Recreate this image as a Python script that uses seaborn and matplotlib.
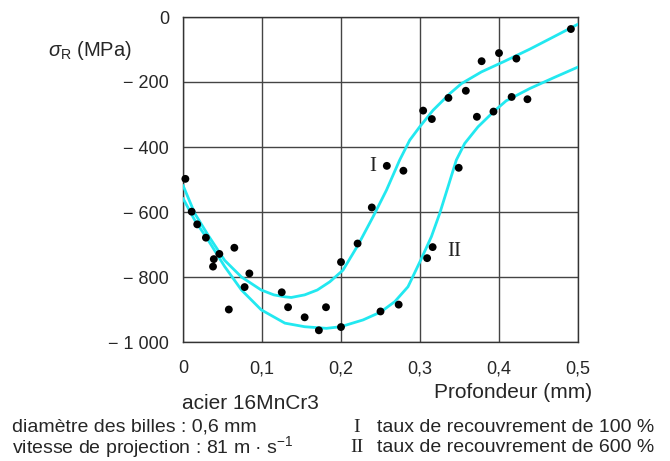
import matplotlib
matplotlib.use("Agg")
import matplotlib.pyplot as plt
import seaborn as sns

# ---- data ----
pts_x = [0.003, 0.011, 0.018, 0.029, 0.039, 0.038, 0.046, 0.065, 0.058, 0.084,
         0.078, 0.125, 0.133, 0.154, 0.172, 0.181, 0.200, 0.200, 0.221, 0.239,
         0.258, 0.279, 0.304, 0.315, 0.336, 0.358, 0.378, 0.400, 0.422, 0.491,
         0.372, 0.393, 0.416, 0.436, 0.349, 0.316, 0.309, 0.273, 0.250]
pts_y = [-498, -599, -638, -679, -745, -768, -729, -710, -900, -789,
         -831, -847, -893, -924, -964, -893, -954, -754, -697, -586,
         -458, -473, -288, -314, -249, -227, -136, -111, -128, -37,
         -307, -291, -246, -253, -464, -708, -742, -885, -906]

# curve I (100 %)
curve1_x = [0, 0.0148, 0.0317, 0.0528, 0.074, 0.099, 0.115, 0.129, 0.137, 0.154,
            0.17, 0.1857, 0.2025, 0.2215, 0.2405, 0.2575, 0.2743, 0.287, 0.2996,
            0.3165, 0.3376, 0.3524, 0.3777, 0.4072, 0.4389, 0.47, 0.5]
curve1_y = [-518, -604, -671, -749, -800, -840, -855, -861, -863, -855,
            -840, -815, -779, -702, -615, -533, -440, -379, -338,
            -287, -236, -205, -169, -136, -99, -60, -22]

# curve II (600 %)
curve2_x = [0, 0.0148, 0.0317, 0.0528, 0.074, 0.099, 0.129, 0.154, 0.1815, 0.1996,
            0.228, 0.25, 0.268, 0.2848, 0.3009, 0.3144, 0.325, 0.3354, 0.346,
            0.3566, 0.3734, 0.3933, 0.409, 0.439, 0.47, 0.5]
curve2_y = [-558, -625, -686, -768, -840, -901, -942, -953, -958, -953,
            -932, -908, -876, -830, -748, -676, -604, -523, -440,
            -389, -338, -291, -258, -220, -186, -154]

x_ticks = [0, 0.1, 0.2, 0.3, 0.4, 0.5]
x_labels = ["0", "0,1", "0,2", "0,3", "0,4", "0,5"]
y_ticks = [0, -200, -400, -600, -800, -1000]
y_labels = ["0", "\u2212 200", "\u2212 400", "\u2212 600", "\u2212 800", "\u2212 1 000"]

# ---- style ----
sns.set_style("white")
plt.rcParams["font.family"] = ["Liberation Sans", "DejaVu Sans"]
plt.rcParams["mathtext.fontset"] = "custom"
plt.rcParams["mathtext.rm"] = "Liberation Sans"
plt.rcParams["mathtext.it"] = "Liberation Sans:italic"

W, H = 670, 461
fig = plt.figure(figsize=(W / 100, H / 100), dpi=100)
ax = fig.add_axes([183 / W, 1 - 342 / H, (578 - 183) / W, (342 - 17) / H])

cyan = "#22e8f0"
sns.lineplot(x=curve1_x, y=curve1_y, ax=ax, color=cyan, lw=2.0, sort=False, zorder=3)
sns.lineplot(x=curve2_x, y=curve2_y, ax=ax, color=cyan, lw=2.0, sort=False, zorder=3)
sns.scatterplot(x=pts_x, y=pts_y, ax=ax, color="black", s=32, edgecolor="none",
                zorder=4, clip_on=False)

ax.set_xlim(0, 0.5)
ax.set_ylim(-1000, 0)
ax.set_xticks(x_ticks, x_labels)
ax.set_yticks(y_ticks, y_labels)
ax.grid(True, color="#444444", lw=1.0)
ax.set_axisbelow(True)
for s in ax.spines.values():
    s.set_color("#333333")
    s.set_linewidth(1.0)
ax.tick_params(axis="both", direction="out", length=7, width=1.0, color="#333333",
               labelsize=13, pad=3)
ax.tick_params(axis="x", pad=6)
ax.set_xlabel("")
ax.set_ylabel("")

def ft(x, y, s, **kw):
    fig.text(x / W, 1 - y / H, s, **kw)

fs = 14
ft(48, 50, r"$\sigma_{\mathrm{R}}$ (MPa)", ha="left", va="center", fontsize=14.5)
ft(513, 393, "Profondeur (mm)", ha="center", va="center", fontsize=15)
ft(250, 403, "acier 16MnCr3", ha="center", va="center", fontsize=15)
ft(12, 427, "diamètre des billes : 0,6 mm", ha="left", va="center", fontsize=fs)
ft(12, 447, r"vitesse de projection : 81 m · s$^{-1}$", ha="left", va="center", fontsize=fs)
ft(353, 427, "I", ha="left", va="center", fontsize=fs, family="Liberation Serif")
ft(350, 447, "II", ha="left", va="center", fontsize=fs, family="Liberation Serif")
ft(377, 427, "taux de recouvrement de 100 %", ha="left", va="center", fontsize=fs)
ft(377, 447, "taux de recouvrement de 600 %", ha="left", va="center", fontsize=fs)

ax.text(0.24, -460, "I", ha="center", va="center", fontsize=15,
        family="Liberation Serif", color="#222222")
ax.text(0.343, -720, "II", ha="center", va="center", fontsize=15,
        family="Liberation Serif", color="#222222")

fig.savefig("out.png", dpi=100)
